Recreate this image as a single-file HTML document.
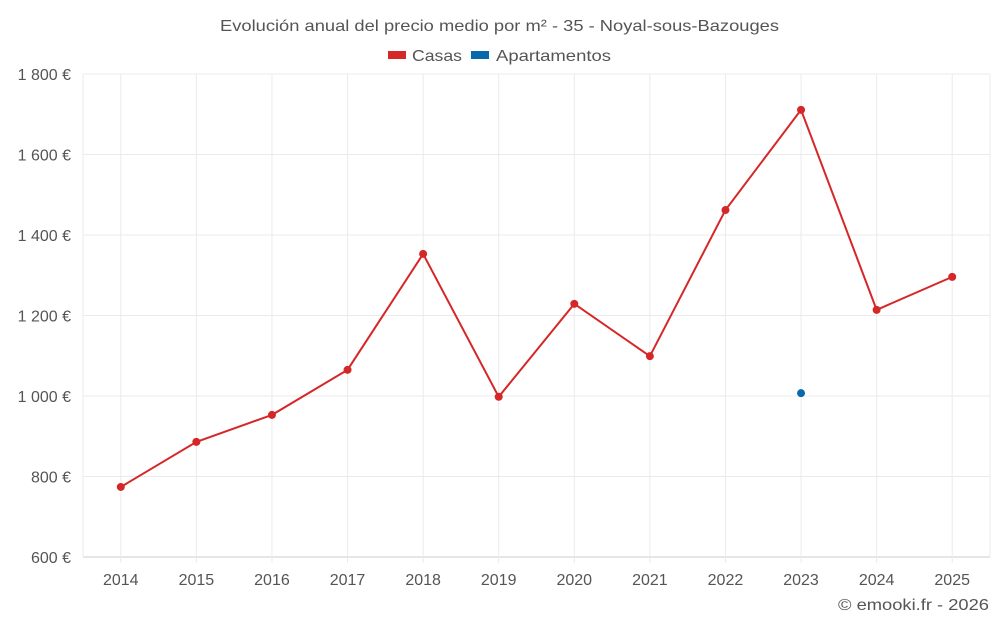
<!DOCTYPE html>
<html><head><meta charset="utf-8"><style>
body{margin:0;background:#fff;font-family:"Liberation Sans",sans-serif;}
svg text{font-family:"Liberation Sans",sans-serif;fill:#555;}
</style></head><body>
<svg id="chart" width="1000" height="625">
<text x="220" y="31" textLength="559" lengthAdjust="spacingAndGlyphs" font-size="16">Evolución anual del precio medio por m² - 35 - Noyal-sous-Bazouges</text>
<g>
<g><rect x="388" y="51" width="18" height="8" fill="#d62728"/><text x="412" y="61" font-size="16" textLength="50" lengthAdjust="spacingAndGlyphs">Casas</text></g>
<g><rect x="471" y="51" width="18" height="8" fill="#0868ac"/><text x="496" y="61" font-size="16" textLength="115" lengthAdjust="spacingAndGlyphs">Apartamentos</text></g>
</g>
<g id="grid"></g><g id="axes"></g><g id="series"></g>
<text x="838" y="610" textLength="151" lengthAdjust="spacingAndGlyphs" font-size="16">© emooki.fr - 2026</text>
</svg>
<script>
const years=["2014","2015","2016","2017","2018","2019","2020","2021","2022","2023","2024","2025"];
const casas=[774,886,953,1065,1353,998,1229,1099,1462,1711,1214,1296];
const apartamentos=[null,null,null,null,null,null,null,null,null,1007,null,null];
const yTicks=[600,800,1000,1200,1400,1600,1800];
const yTickLabels=["600 €","800 €","1 000 €","1 200 €","1 400 €","1 600 €","1 800 €"];
const L=83,R=990,T=74,B=557,ymin=600,ymax=1800;
const NS="http://www.w3.org/2000/svg";
const band=(R-L)/years.length;
const x=i=>L+band*(i+0.5);
const y=v=>B-(v-ymin)/(ymax-ymin)*(B-T);
function mk(p,tag,a){const e=document.createElementNS(NS,tag);for(const k in a)e.setAttribute(k,a[k]);p.appendChild(e);return e;}
const g=document.getElementById('grid'),ax=document.getElementById('axes'),s=document.getElementById('series');
yTicks.forEach((t,i)=>{
 const l=mk(g,'line',{x1:L,x2:R,y1:y(t),y2:y(t),stroke:i==0?'#ccc':'#ebebeb'});
 
 
 const tx=mk(ax,'text',{x:71,y:y(t)+6,'text-anchor':'end','font-size':16});tx.textContent=yTickLabels[i];
 
 
});
const l0=mk(g,'line',{x1:L,x2:L,y1:T,y2:B,stroke:'#ebebeb'});


const l1=mk(g,'line',{x1:R,x2:R,y1:T,y2:B,stroke:'#ebebeb'});


years.forEach((yr,i)=>{
 const l=mk(g,'line',{x1:x(i),x2:x(i),y1:T,y2:B+6,stroke:'#ebebeb'});
 
 
 const tx=mk(ax,'text',{x:x(i),y:585,'text-anchor':'middle','font-size':16});tx.textContent=yr;
 
 
});
const pts=casas.map((v,i)=>v==null?null:[x(i),y(v)]).filter(p=>p);
const pl=mk(s,'polyline',{points:pts.map(p=>p.join(',')).join(' '),fill:'none',stroke:'#d62728','stroke-width':2});


casas.forEach((v,i)=>{if(v==null)return;
 const c=mk(s,'circle',{cx:x(i),cy:y(v),r:4,fill:'#d62728'});
 
 
});
apartamentos.forEach((v,i)=>{if(v==null)return;
 const c=mk(s,'circle',{cx:x(i),cy:y(v),r:4,fill:'#0868ac'});
 
 
});
</script>
</body></html>
